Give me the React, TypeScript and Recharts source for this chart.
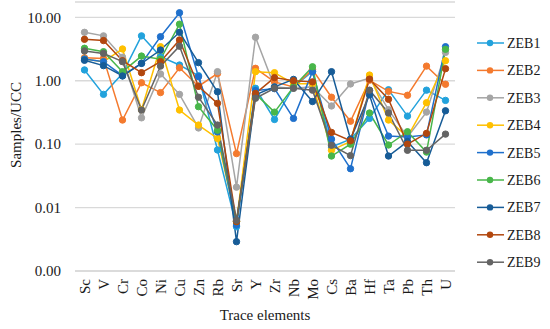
import React from 'react';
import { LineChart, Line, XAxis, YAxis, CartesianGrid } from 'recharts';

const categories = ['Sc', 'V', 'Cr', 'Co', 'Ni', 'Cu', 'Zn', 'Rb', 'Sr', 'Y', 'Zr', 'Nb', 'Mo', 'Cs', 'Ba', 'Hf', 'Ta', 'Pb', 'Th', 'U'];

const zeb1 = [1.48, 0.61, 1.3, 5.1, 2.4, 1.77, 1.2, 0.081, 0.005, 0.76, 0.245, 0.8, 1.4, 0.09, 0.12, 0.255, 0.72, 0.277, 0.71, 0.49];
const zeb2 = [2.3, 2.25, 0.24, 0.93, 0.65, 1.6, 0.82, 1.3, 0.071, 1.57, 0.96, 0.8, 1.5, 0.55, 0.23, 1.02, 0.68, 0.59, 1.7, 0.88];
const zeb3 = [5.8, 5.1, 2.35, 0.26, 1.28, 0.61, 0.18, 1.39, 0.021, 4.85, 0.8, 0.76, 0.8, 0.4, 0.89, 1.1, 0.35, 0.13, 0.32, 2.8];
const zeb4 = [2.2, 2.0, 3.17, 0.35, 3.44, 0.345, 0.2, 0.123, 0.006, 1.39, 1.34, 0.9, 0.9, 0.08, 0.11, 1.23, 0.24, 0.13, 0.45, 2.07];
const zeb5 = [2.2, 2.0, 1.2, 1.88, 4.95, 11.8, 1.16, 0.156, 0.0053, 0.7, 0.75, 0.255, 1.39, 0.12, 0.041, 0.7, 0.134, 0.13, 0.14, 3.44];
const zeb6 = [3.25, 2.87, 1.39, 2.45, 2.18, 7.8, 0.39, 0.166, 0.006, 0.62, 0.32, 0.8, 1.66, 0.065, 0.1, 0.31, 0.097, 0.157, 0.075, 3.13];
const zeb7 = [2.1, 1.73, 1.19, 1.88, 3.05, 5.8, 1.93, 0.67, 0.0029, 0.6, 0.8, 1.05, 0.47, 1.39, 0.12, 0.6, 0.065, 0.11, 0.051, 0.336];
const zeb8 = [4.5, 4.3, 2.07, 1.34, 2.0, 4.4, 0.82, 0.44, 0.006, 0.63, 1.12, 1.0, 0.96, 0.153, 0.113, 1.06, 0.51, 0.1, 0.148, 1.55];
const zeb9 = [2.95, 2.7, 2.0, 0.345, 1.7, 3.5, 0.55, 0.2, 0.0063, 0.53, 0.76, 0.76, 0.71, 0.096, 0.066, 0.71, 0.31, 0.08, 0.08, 0.144];

const yTicks = [0.001, 0.01, 0.1, 1, 10];

const seriesNames = ['ZEB1', 'ZEB2', 'ZEB3', 'ZEB4', 'ZEB5', 'ZEB6', 'ZEB7', 'ZEB8', 'ZEB9'];
const seriesValues = [zeb1, zeb2, zeb3, zeb4, zeb5, zeb6, zeb7, zeb8, zeb9];
const seriesColors = ['#22A2DC', '#F47A2E', '#A5A5A5', '#FFC000', '#1F70CC', '#48B64A', '#175C97', '#B2470E', '#646464'];

const data = categories.map((el, i) => {
  const row: any = { el };
  seriesNames.forEach((n, s) => {
    row[n] = seriesValues[s][i];
  });
  return row;
});

const FONT = '"Liberation Serif", "Times New Roman", serif';

const XTick = (props: any) => {
  const { x, payload } = props;
  return (
    <text
      x={0}
      y={0}
      transform={`translate(${x},279) rotate(-90)`}
      textAnchor="end"
      dy="0.35em"
      fontFamily={FONT}
      fontSize={15}
      fill="#1a1a1a"
    >
      {payload.value}
    </text>
  );
};

const YTick = (props: any) => {
  const { x, y, payload } = props;
  return (
    <text x={x} y={y} dy="0.35em" textAnchor="end" fontFamily={FONT} fontSize={15} fill="#1a1a1a">
      {Number(payload.value).toFixed(2)}
    </text>
  );
};

export default function App() {
  return (
    <div style={{ position: 'absolute', left: 0, top: 0, width: 550, height: 329, background: '#fff' }}>
      <LineChart width={550} height={329} data={data} margin={{ top: 2, right: 95, bottom: 0, left: 0 }}>
        <CartesianGrid vertical={false} stroke="#d9d9d9" strokeWidth={1.3} />
        <XAxis
          dataKey="el"
          interval={0}
          height={58}
          padding={{ left: 9.5, right: 9.5 }}
          axisLine={{ stroke: '#d9d9d9', strokeWidth: 1.3 }}
          tickLine={false}
          tick={<XTick />}
          label={{
            content: () => (
              <text x={265} y={320} textAnchor="middle" fontFamily={FONT} fontSize={15} fill="#1a1a1a">
                Trace elements
              </text>
            ),
          }}
        />
        <YAxis
          type="number"
          scale="log"
          domain={[0.001, 17.44]}
          ticks={yTicks}
          width={75}
          axisLine={false}
          tickLine={false}
          tickMargin={8}
          tick={<YTick />}
          label={{
            content: () => (
              <text
                x={0}
                y={0}
                transform="translate(21,125) rotate(-90)"
                textAnchor="middle"
                fontFamily={FONT}
                fontSize={15}
                fill="#1a1a1a"
              >
                Samples/UCC
              </text>
            ),
          }}
        />
        {seriesNames.map((n, s) => (
          <Line
            key={n}
            dataKey={n}
            stroke={seriesColors[s]}
            strokeWidth={1.5}
            dot={{ r: 3.2, fill: seriesColors[s], stroke: seriesColors[s], strokeWidth: 1 }}
            isAnimationActive={false}
          />
        ))}
      </LineChart>
      <svg
        width={80}
        height={260}
        style={{ position: 'absolute', left: 470, top: 30 }}
      >
        {seriesNames.map((n, s) => {
          const cy = 13 + s * 27.4;
          return (
            <g key={n}>
              <line x1={7} x2={34} y1={cy} y2={cy} stroke={seriesColors[s]} strokeWidth={1.5} />
              <circle cx={20} cy={cy} r={3.2} fill={seriesColors[s]} />
              <text x={37} y={cy} dy="0.35em" fontFamily={FONT} fontSize={14} fill="#1a1a1a">
                {n}
              </text>
            </g>
          );
        })}
      </svg>
    </div>
  );
}
